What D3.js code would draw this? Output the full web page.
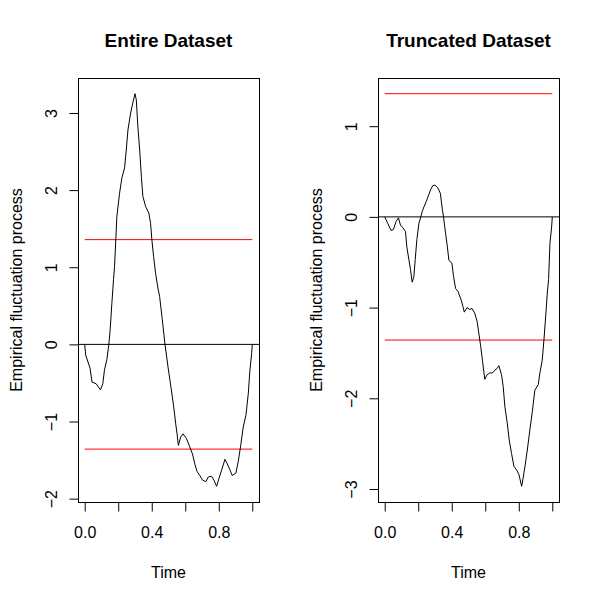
<!DOCTYPE html>
<html>
<head>
<meta charset="utf-8">
<script src="https://cdn.jsdelivr.net/npm/d3@7"></script>
<style>
  body { margin: 0; background: #fff; }
  text { font-family: "Liberation Sans", Arial, sans-serif; fill: #000; }
</style>
</head>
<body>
<div id="chart"></div>
<script>
// values
var entireTime  = [0, 0.006, 0.032, 0.044, 0.068, 0.094, 0.108, 0.118, 0.132, 0.144, 0.152, 0.162, 0.172, 0.178, 0.192, 0.208, 0.222, 0.238, 0.248, 0.258, 0.274, 0.287, 0.300, 0.308, 0.317, 0.328, 0.338, 0.347, 0.363, 0.383, 0.393, 0.401, 0.411, 0.423, 0.437, 0.447, 0.463, 0.479, 0.497, 0.517, 0.531, 0.543, 0.551, 0.559, 0.573, 0.587, 0.607, 0.627, 0.643, 0.657, 0.671, 0.687, 0.703, 0.723, 0.737, 0.757, 0.771, 0.787, 0.801, 0.817, 0.837, 0.851, 0.867, 0.880, 0.902, 0.916, 0.931, 0.946, 0.962, 0.976, 0.986, 0.996, 1];
var entireValue = [0, -0.14, -0.31, -0.49, -0.51, -0.59, -0.51, -0.33, -0.20, 0, 0.19, 0.53, 0.84, 1.01, 1.66, 1.96, 2.16, 2.29, 2.52, 2.78, 3.00, 3.13, 3.25, 3.17, 2.83, 2.52, 2.18, 1.92, 1.79, 1.70, 1.57, 1.35, 1.14, 0.92, 0.73, 0.62, 0.32, 0, -0.29, -0.59, -0.81, -1.03, -1.16, -1.31, -1.20, -1.16, -1.22, -1.33, -1.42, -1.55, -1.65, -1.70, -1.76, -1.78, -1.72, -1.71, -1.76, -1.84, -1.74, -1.63, -1.49, -1.55, -1.63, -1.70, -1.67, -1.52, -1.31, -1.07, -0.92, -0.64, -0.33, -0.12, 0];

var truncTime  = [0, 0.018, 0.038, 0.052, 0.068, 0.082, 0.094, 0.108, 0.124, 0.132, 0.144, 0.154, 0.164, 0.174, 0.182, 0.192, 0.204, 0.214, 0.224, 0.234, 0.248, 0.262, 0.274, 0.287, 0.300, 0.317, 0.332, 0.344, 0.351, 0.363, 0.374, 0.383, 0.401, 0.411, 0.423, 0.437, 0.457, 0.467, 0.475, 0.491, 0.507, 0.521, 0.537, 0.551, 0.563, 0.573, 0.583, 0.597, 0.611, 0.627, 0.643, 0.657, 0.671, 0.681, 0.697, 0.707, 0.717, 0.731, 0.743, 0.757, 0.771, 0.787, 0.801, 0.817, 0.826, 0.837, 0.851, 0.866, 0.880, 0.896, 0.916, 0.926, 0.940, 0.950, 0.962, 0.970, 0.978, 0.986, 0.996, 1];
var truncValue = [0, -0.07, -0.15, -0.14, -0.05, -0.01, -0.09, -0.12, -0.16, -0.33, -0.47, -0.58, -0.72, -0.66, -0.47, -0.25, -0.07, -0.01, 0.06, 0.11, 0.17, 0.24, 0.30, 0.345, 0.35, 0.32, 0.26, 0.08, 0, -0.18, -0.33, -0.48, -0.51, -0.66, -0.79, -0.82, -0.92, -0.99, -1.05, -1.00, -1.02, -1.01, -1.06, -1.15, -1.30, -1.43, -1.58, -1.79, -1.74, -1.72, -1.72, -1.69, -1.67, -1.64, -1.74, -1.87, -2.09, -2.27, -2.46, -2.61, -2.75, -2.79, -2.84, -2.97, -2.88, -2.75, -2.57, -2.35, -2.16, -1.91, -1.85, -1.72, -1.58, -1.36, -1.06, -0.84, -0.69, -0.29, -0.11, 0];

var boundary = 1.358;
var xTicks = [0, 0.2, 0.4, 0.6, 0.8, 1];
var xTickLabels = ["0.0", "", "0.4", "", "0.8", ""];
var entireYTicks = [-2, -1, 0, 1, 2, 3];
var truncYTicks = [-3, -2, -1, 0, 1];
var titles = ["Entire Dataset", "Truncated Dataset"];

var W = 600, H = 600;
var plotTop = 78, plotBottom = 502, plotWidth = 181;

var svg = d3.select("#chart").append("svg")
            .attr("width", W)
            .attr("height", H);

var panels = [
  { left: 78,  title: titles[0], time: entireTime, value: entireValue, yTicks: entireYTicks },
  { left: 378, title: titles[1], time: truncTime,  value: truncValue,  yTicks: truncYTicks }
];

// R style 4% padding on the data range
function pad(ext) {
  var d = (ext[1] - ext[0]) * 0.04;
  return [ext[0] - d, ext[1] + d];
}

panels.forEach(function (p) {
  var g = svg.append("g");
  var right = p.left + plotWidth;

  var x = d3.scaleLinear()
            .domain(pad([0, 1]))
            .range([p.left, right]);

  var yExt = d3.extent(p.value.concat([boundary, -boundary]));
  var y = d3.scaleLinear()
            .domain(pad(yExt))
            .range([plotBottom, plotTop]);

  // zero line
  g.append("line")
   .attr("x1", p.left).attr("x2", right)
   .attr("y1", y(0)).attr("y2", y(0))
   .style("stroke", "black").style("stroke-width", 1);

  // boundaries
  [boundary, -boundary].forEach(function (b) {
    g.append("line")
     .attr("x1", x(0)).attr("x2", x(1))
     .attr("y1", y(b)).attr("y2", y(b))
     .style("stroke", "red").style("stroke-width", 1);
  });

  // process
  var pts = p.time.map(function (t, i) { return [t, p.value[i]]; });
  g.append("path")
   .datum(pts)
   .attr("d", d3.line().x(function (d) { return x(d[0]); }).y(function (d) { return y(d[1]); }))
   .style("fill", "none")
   .style("stroke", "black")
   .style("stroke-width", 1);

  // box
  g.append("rect")
   .attr("x", p.left + 0.5).attr("y", plotTop + 0.5)
   .attr("width", plotWidth).attr("height", plotBottom - plotTop)
   .style("fill", "none").style("stroke", "black").style("stroke-width", 1);

  // x axis
  var xAxis = g.append("g")
               .attr("transform", "translate(0," + (plotBottom + 0.5) + ")")
               .call(d3.axisBottom(x).tickValues(xTicks).tickSize(9).tickSizeOuter(0)
                       .tickFormat(function (d, i) { return xTickLabels[i]; }));
  xAxis.select(".domain").remove();
  xAxis.selectAll("line").style("stroke", "black");
  xAxis.selectAll("text").attr("y", 24).attr("dy", "0.71em")
       .style("font-size", "16px").style("font-family", "Liberation Sans, Arial, sans-serif");

  // y axis
  var yAxis = g.append("g")
               .attr("transform", "translate(" + (p.left + 0.5) + ",0)")
               .call(d3.axisLeft(y).tickValues(p.yTicks).tickSize(9).tickSizeOuter(0)
                       .tickFormat(d3.format("d")));
  yAxis.select(".domain").remove();
  yAxis.selectAll("line").style("stroke", "black");
  yAxis.selectAll("text")
       .attr("x", null).attr("dy", null)
       .attr("text-anchor", "middle")
       .attr("transform", "translate(-22,0) rotate(-90)")
       .style("font-size", "16px").style("font-family", "Liberation Sans, Arial, sans-serif");

  // titles
  g.append("text")
   .attr("x", p.left + plotWidth / 2)
   .attr("y", 47)
   .attr("text-anchor", "middle")
   .style("font-weight", "bold")
   .style("font-size", "19px")
   .text(p.title);

  g.append("text")
   .attr("x", p.left + plotWidth / 2)
   .attr("y", 578)
   .attr("text-anchor", "middle")
   .style("font-size", "16px")
   .text("Time");

  g.append("text")
   .attr("transform", "translate(" + (p.left - 56) + "," + ((plotTop + plotBottom) / 2) + ") rotate(-90)")
   .attr("text-anchor", "middle")
   .style("font-size", "16px")
   .text("Empirical fluctuation process");
});
</script>
</body>
</html>
